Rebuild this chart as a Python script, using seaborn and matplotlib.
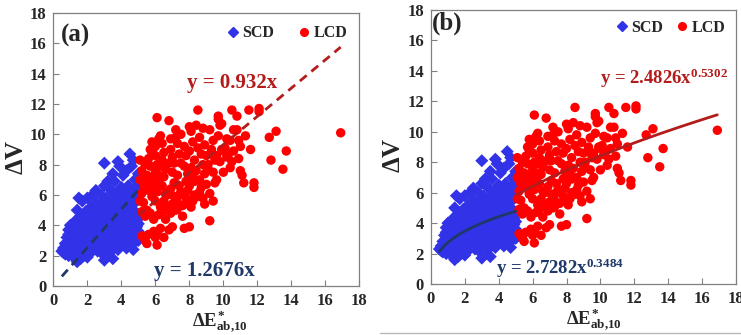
import numpy as np
import pandas as pd
import matplotlib
matplotlib.use("Agg")
import matplotlib.pyplot as plt
from matplotlib.lines import Line2D
import seaborn as sns

# ---------------- data ----------------
scd_x = [0.5, 0.6, 0.7, 0.7, 0.8, 0.8, 0.9, 0.9, 1.0, 1.0, 1.0, 1.1, 1.1, 1.2, 1.2, 1.2, 1.3, 1.3, 1.3,
         1.4, 1.4, 1.4, 1.5, 1.5, 1.5, 1.5,
         1.6, 1.6, 1.6, 1.7, 1.7, 1.7, 1.8, 1.8, 1.8, 1.9, 1.9, 1.9, 2.0, 2.0, 2.0, 2.0, 2.1, 2.1, 2.1,
         2.2, 2.2, 2.2, 2.3, 2.3, 2.3, 2.4, 2.4, 2.4, 2.5, 2.5, 2.5, 2.5,
         2.6, 2.6, 2.6, 2.7, 2.7, 2.7, 2.8, 2.8, 2.8, 2.9, 2.9, 2.9, 3.0, 3.0, 3.0, 3.0, 3.0, 3.1, 3.1, 3.1,
         3.2, 3.2, 3.2, 3.3, 3.3, 3.3, 3.4, 3.4, 3.4, 3.5, 3.5, 3.5, 3.5,
         3.6, 3.6, 3.6, 3.7, 3.7, 3.7, 3.8, 3.8, 3.8, 3.8, 3.9, 3.9, 3.9, 4.0, 4.0, 4.0, 4.0, 4.1, 4.1, 4.1,
         4.2, 4.2, 4.2, 4.3, 4.3, 4.3,
         4.4, 4.4, 4.4, 4.5, 4.5, 4.5, 4.6, 4.6, 4.6, 4.7, 4.7, 4.7, 4.7, 4.8, 4.8, 4.8, 4.9, 4.9, 4.9,
         5.0, 5.0, 5.0, 5.0,
         0.6, 0.8, 0.9, 1.0, 1.1, 1.2, 1.3, 1.4, 1.5, 1.6, 1.6, 1.7, 1.8, 1.9, 1.9, 2.0, 2.0, 2.1, 2.2, 2.2,
         2.3, 2.3, 2.4, 2.4, 2.5, 2.6, 2.6, 2.7, 2.7, 2.8, 2.8, 2.9, 2.9, 3.0, 3.0, 3.1, 3.1, 3.2, 3.2, 3.3,
         3.3, 3.4, 3.4, 3.5, 3.5, 3.6, 3.6, 3.7, 3.7, 3.8, 3.8, 3.9, 3.9, 4.0, 4.0, 4.1, 4.1, 4.2, 4.2, 4.3,
         4.3, 4.4, 4.4, 4.5, 4.5, 4.6, 4.6, 4.7, 4.8, 4.8, 4.9, 4.9, 5.0, 5.0]
scd_y = [2.3, 2.5, 2.1, 2.8, 3.2, 2.4, 3.7, 2.0, 3.0, 4.0, 2.6, 3.4, 2.2, 3.8, 2.9, 1.9, 4.3, 3.2, 2.5,
         1.6, 3.6, 5.0, 5.8, 4.1, 2.8, 2.1,
         3.3, 4.6, 1.8, 2.5, 3.9, 5.6, 2.9, 4.3, 2.0, 3.5, 4.9, 2.3, 5.8, 3.1, 3.9, 1.9, 2.6, 4.5, 3.4,
         5.2, 2.2, 4.0, 3.0, 3.7, 6.0, 2.5, 4.8, 3.3, 6.3, 4.2, 2.8, 5.5,
         3.6, 2.3, 4.6, 3.0, 5.0, 3.9, 2.6, 6.0, 4.3, 3.4, 5.4, 2.1, 8.1, 1.7, 4.0, 6.6, 3.1, 4.7, 2.5, 5.8,
         3.6, 6.9, 2.9, 4.4, 5.2, 2.2, 6.3, 3.3, 3.9, 1.8, 7.4, 4.9, 2.7,
         5.6, 3.5, 6.9, 4.2, 2.9, 6.1, 8.2, 3.8, 5.1, 2.4, 7.9, 4.6, 3.2, 6.5, 5.6, 3.6, 2.7, 7.3, 4.1, 4.9,
         6.0, 3.0, 5.3, 7.6, 3.8, 2.5,
         6.6, 4.5, 3.3, 8.7, 5.8, 2.9, 7.9, 5.0, 3.7, 8.3, 6.2, 2.4, 4.3, 7.0, 5.5, 3.2, 6.5, 4.8, 3.9,
         7.4, 5.9, 4.1, 3.0,
         2.2, 2.7, 3.4, 2.3, 3.9, 3.3, 2.8, 4.1, 3.5, 2.6, 3.9, 3.1, 3.6, 2.7, 4.1, 3.4, 4.4, 2.9, 3.6, 4.7,
         2.6, 4.2, 3.8, 2.9, 3.5, 4.0, 2.9, 3.4, 4.5, 3.7, 3.1, 4.1, 4.8, 3.6, 2.6, 3.9, 3.3, 4.2, 4.9, 3.7,
         2.9, 4.4, 5.6, 3.6, 4.2, 4.6, 3.0, 3.6, 5.3, 4.3, 3.3, 4.0, 5.8, 4.6, 3.2, 3.6, 5.6, 4.4, 3.5, 4.8,
         3.3, 4.0, 5.3, 3.6, 4.6, 4.1, 3.2, 3.7, 4.4, 2.9, 4.3, 3.4, 3.6, 4.6]

lcd_x = [5.1, 5.2, 5.1, 5.3, 5.1, 5.3, 5.2, 5.4, 5.2, 5.4, 5.6, 5.5, 5.4, 5.6, 5.7, 5.5, 5.8, 5.6, 5.8,
         5.7, 5.9, 5.9, 5.7, 5.8, 6.0, 6.0, 6.1, 6.0, 6.2, 6.1, 6.0, 6.3, 6.2, 6.1, 6.3, 6.1, 6.1, 6.3,
         6.4, 6.5, 6.4, 6.6, 6.5, 6.4, 6.6, 6.5, 6.7, 6.6, 6.5, 6.8, 6.8, 6.9, 6.9, 7.0, 6.8, 7.0, 7.1,
         6.9, 7.1, 7.0, 7.2, 7.0, 7.2, 7.3, 7.4, 7.3, 7.4, 7.5, 7.3, 7.6, 7.5, 7.7, 7.8, 7.7, 7.9, 7.8,
         7.9, 7.8, 7.7, 8.0, 8.0, 8.1, 8.2, 8.0, 8.3, 8.1, 8.2, 8.0, 8.3, 8.2, 8.1, 8.5, 8.4, 8.6, 8.5,
         8.7, 8.4, 8.6, 8.7, 8.5, 8.8, 8.8, 8.9, 9.0, 9.1, 8.9, 9.0, 9.2, 9.2, 9.2, 9.4, 9.3, 9.5, 9.4,
         9.6, 9.5, 9.7, 9.7, 9.8, 9.7, 9.9, 9.8, 10.0, 10.1, 10.2, 10.3, 10.4, 10.5, 10.4, 10.6, 10.6,
         10.8, 10.8, 10.9, 11.0, 11.0, 11.1, 11.2, 11.5, 11.6, 11.8, 11.8, 12.1, 12.1, 12.7, 12.8, 13.1,
         13.5, 13.7, 16.9,
         5.2, 5.3, 5.5, 5.6, 5.9, 6.2, 6.4, 6.7, 6.2, 5.8, 6.0, 6.9, 7.1, 7.5, 7.6, 7.2, 7.4, 7.9, 8.3,
         8.6, 8.9, 9.1, 9.3, 9.6, 9.9, 10.2, 10.5, 10.9, 11.3, 7.3, 6.3, 5.4, 8.8, 9.4, 10.0]
lcd_y = [8.3, 7.6, 7.0, 6.6, 5.6, 5.5, 4.9, 4.6, 3.3, 3.0, 3.4, 2.8, 8.0, 8.4, 7.9, 7.3, 7.1, 6.3, 5.9,
         4.8, 4.4, 3.6, 9.0, 9.5, 9.2, 8.6, 8.0, 7.5, 6.8, 6.2, 5.6, 5.2, 4.7, 3.5, 3.8, 2.7, 11.1, 9.9,
         9.4, 8.8, 8.3, 7.7, 7.2, 6.6, 6.1, 5.6, 5.2, 4.4, 3.2, 3.7, 10.9, 9.7, 9.0, 8.5, 8.1, 7.5, 6.8,
         6.4, 5.9, 5.4, 5.0, 3.9, 10.3, 9.4, 8.7, 7.3, 6.6, 6.2, 5.5, 5.3, 10.0, 9.2, 8.6, 7.9, 7.4, 6.9,
         6.3, 5.8, 3.8, 3.9, 10.5, 10.2, 9.5, 8.9, 8.3, 7.8, 7.2, 6.6, 6.0, 5.6, 5.2, 11.6, 10.6, 9.8, 9.1,
         8.7, 7.6, 7.0, 6.5, 5.9, 5.8, 10.4, 9.3, 8.6, 8.0, 7.4, 6.7, 6.1, 4.3, 10.3, 9.6, 9.0, 8.3, 7.5,
         7.0, 6.8, 11.2, 11.0, 10.6, 9.9, 9.0, 8.2, 7.5, 9.1, 8.5, 8.7, 7.8, 11.6, 9.6, 8.9, 10.3,
         11.2, 10.3, 9.6, 9.2, 7.6, 7.3, 6.8, 11.6, 9.0, 6.8, 6.5, 11.7, 11.5, 9.8, 8.3, 10.2,
         7.7, 8.9, 10.1,
         6.1, 7.3, 5.0, 6.7, 6.6, 7.3, 4.9, 6.0, 9.7, 8.8, 3.2, 4.8, 8.1, 8.1, 4.6, 9.8, 6.0, 5.5, 6.9,
         6.2, 5.4, 7.7, 8.7, 8.6, 10.7, 9.7, 8.2, 8.4, 9.9, 5.1, 7.9, 6.9, 8.0, 5.6, 8.9]

# fitted models: linear through origin (a) and power law (b)
lin_slope = {"SCD": 1.2676, "LCD": 0.932}
pow_coef = {"SCD": (2.7282, 0.3484), "LCD": (2.4826, 0.5302)}
fit_range = {"SCD": (0.5, 5.0), "LCD": (5.0, 16.9)}

groups = ["SCD", "LCD"]
ticks = [0, 2, 4, 6, 8, 10, 12, 14, 16, 18]

# ---------------- style ----------------
sns.set_theme(style="white")
plt.rcParams["font.family"] = ["Liberation Serif", "DejaVu Serif"]
plt.rcParams["font.weight"] = "bold"
plt.rcParams["mathtext.fontset"] = "custom"
plt.rcParams["mathtext.rm"] = "Liberation Serif:bold"
plt.rcParams["mathtext.bf"] = "Liberation Serif:bold"
plt.rcParams["mathtext.it"] = "Liberation Serif:bold"

pt_color = {"SCD": "#3232E8", "LCD": "#FF0000"}
fit_color = {"SCD": "#1F3868", "LCD": "#B41C1C"}
pt_marker = {"SCD": "D", "LCD": "o"}
pt_size = {"SCD": 44, "LCD": 46}

df = pd.concat([
    pd.DataFrame({"dE": scd_x, "dV": scd_y, "group": "SCD"}),
    pd.DataFrame({"dE": lcd_x, "dV": lcd_y, "group": "LCD"}),
], ignore_index=True)

fig = plt.figure(figsize=(7.41, 3.35), dpi=100)
ax_a = fig.add_axes([0.0720, 0.1463, 0.4130, 0.8150])
ax_b = fig.add_axes([0.5816, 0.1522, 0.4116, 0.8179])

# divider line along the lower edge of panel (b)
fig.add_artist(Line2D([380 / 741, 1.0], [1 - 333 / 335] * 2, color="#b8b8b8", lw=1.0))


def draw_points(ax):
    for g in groups:
        sub = df[df["group"] == g]
        sns.scatterplot(data=sub, x="dE", y="dV", marker=pt_marker[g], color=pt_color[g],
                        s=pt_size[g], edgecolor="none", linewidth=0, ax=ax, legend=False, zorder=2)


def style_axes(ax, xlab_x, ylab_x):
    ax.set_xlim(0, 18)
    ax.set_ylim(0, 18)
    ax.set_xticks(ticks)
    ax.set_yticks(ticks)
    ax.tick_params(direction="in", length=4, width=0.8, color="#808080",
                   labelsize=12, pad=5, left=True, bottom=True)
    for lab in ax.get_xticklabels() + ax.get_yticklabels():
        lab.set_fontweight("bold")
    for sp in ax.spines.values():
        sp.set_color("#808080")
        sp.set_linewidth(0.9)
    ax.set_xlabel(r"$\Delta E^{*}_{ab{,}10}$", fontsize=13.5)
    ax.xaxis.set_label_coords(xlab_x, -0.083)
    ax.set_ylabel(r"$\Delta V$", fontsize=18)
    ax.yaxis.set_label_coords(ylab_x, 0.47)
    handles = [Line2D([], [], marker=pt_marker[g], color=pt_color[g], ls="none",
                      markersize=5 if g == "SCD" else 5.5) for g in groups]
    return handles


# ---- panel (a): linear fits ----
draw_points(ax_a)
for g in groups:
    xs = np.linspace(*fit_range[g], 50)
    sns.lineplot(x=xs, y=lin_slope[g] * xs, color=fit_color[g], lw=2.0, ax=ax_a, zorder=3,
                 linestyle=(0, (3.2, 2.2)))
h = style_axes(ax_a, 0.544, -0.082)
ax_a.legend(h, groups, loc="center left", bbox_to_anchor=(0.57, 0.925), ncol=2, frameon=False,
            prop={"family": "Liberation Serif", "weight": "bold", "size": 11.5},
            handlelength=0.6, handletextpad=0.3, columnspacing=1.6, borderpad=0, borderaxespad=0)
ax_a.text(0.45, 16.55, "(a)", fontsize=18, fontweight="bold", ha="left", va="center")
ax_a.text(10.5, 13.4, "y = 0.932x", color=fit_color["LCD"], fontsize=15, fontweight="bold",
          ha="center", va="center")
ax_a.text(8.9, 1.0, "y = 1.2676x", color=fit_color["SCD"], fontsize=15, fontweight="bold",
          ha="center", va="center")

# ---- panel (b): power-law fits ----
draw_points(ax_b)
for g in groups:
    a, b = pow_coef[g]
    xs = np.linspace(*fit_range[g], 80)
    sns.lineplot(x=xs, y=a * xs ** b, color=fit_color[g], lw=2.0, ax=ax_b, zorder=3)
h = style_axes(ax_b, 0.533, -0.085)
ax_b.legend(h, groups, loc="center left", bbox_to_anchor=(0.61, 0.935), ncol=2, frameon=False,
            prop={"family": "Liberation Serif", "weight": "bold", "size": 11.5},
            handlelength=0.6, handletextpad=0.3, columnspacing=0.9, borderpad=0, borderaxespad=0)
ax_b.text(0.08, 17.1, "(b)", fontsize=18, fontweight="bold", ha="left", va="center")
ax_b.text(13.75, 13.5, r"y = 2.4826x$^{0.5302}$", color=fit_color["LCD"], fontsize=13.5,
          fontweight="bold", ha="center", va="center")
ax_b.text(7.6, 1.05, r"y = 2.7282x$^{0.3484}$", color=fit_color["SCD"], fontsize=13.5,
          fontweight="bold", ha="center", va="center")

fig.savefig("out.png", dpi=100)
